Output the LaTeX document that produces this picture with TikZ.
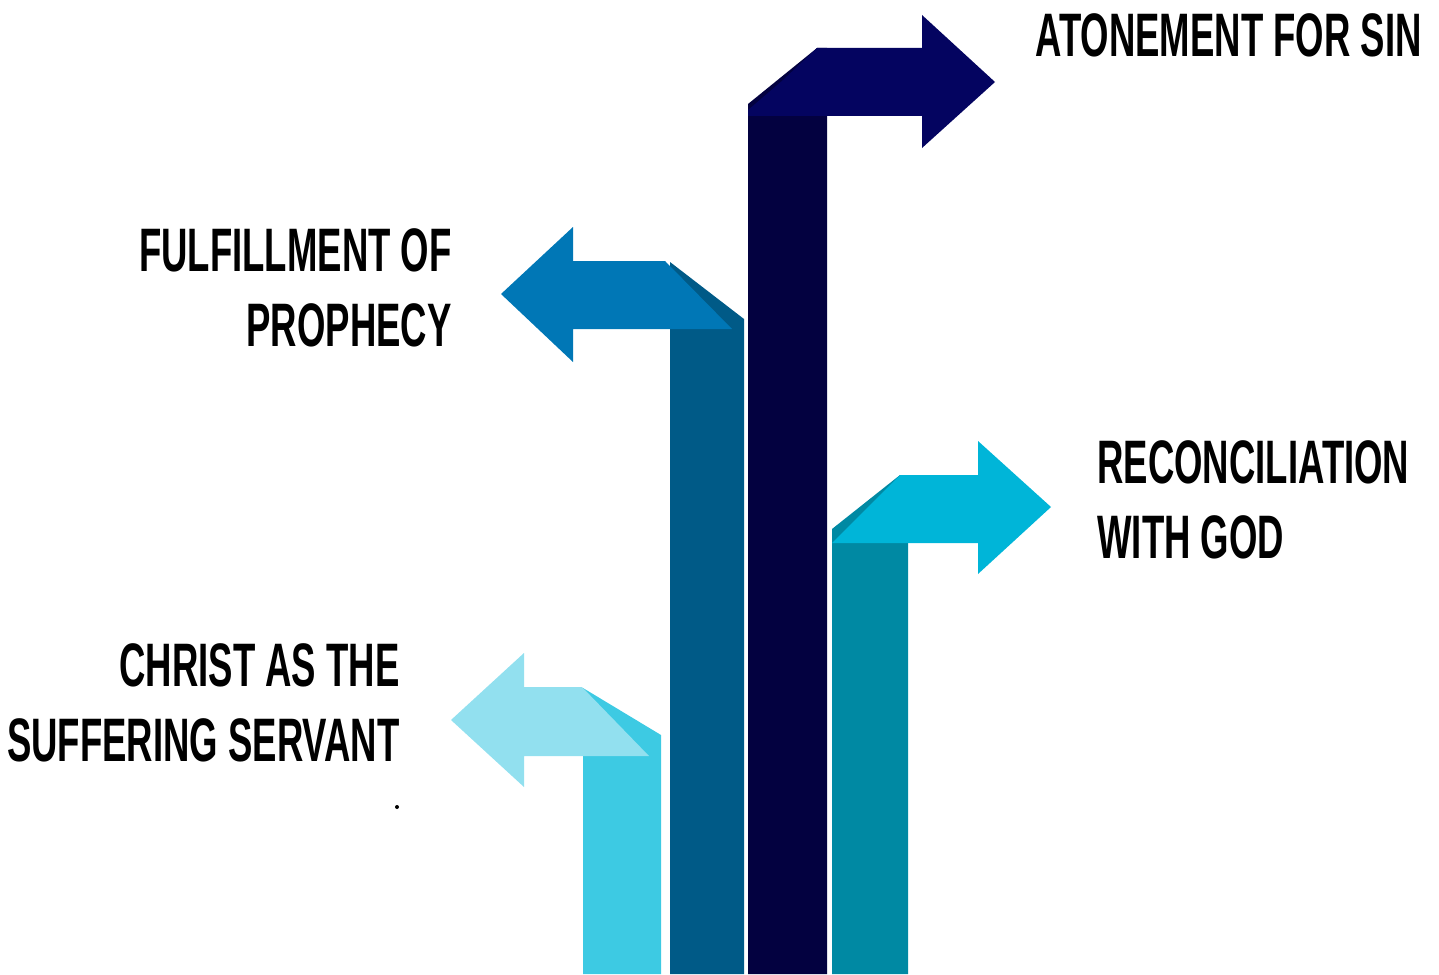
\documentclass[tikz,border=0pt]{standalone}
\usepackage{fontspec}
\usepackage{tikz}
\newfontfamily\bebas{Liberation Sans}[FakeStretch=0.595]
\definecolor{navybar}{HTML}{030140}
\definecolor{navyband}{HTML}{040460}
\definecolor{oceanbar}{HTML}{005A87}
\definecolor{oceanband}{HTML}{0077B6}
\definecolor{tealbar}{HTML}{0089A3}
\definecolor{tealband}{HTML}{00B5D8}
\definecolor{skybar}{HTML}{3DCAE3}
\definecolor{skyband}{HTML}{92E0EF}
\tikzset{headline/.style={font=\bebas\bfseries\fontsize{30.7}{37.5}\selectfont, inner sep=0pt}}

\begin{document}
\begin{tikzpicture}[x=0.5pt, y=-0.5pt]
    \useasboundingbox (0,0) rectangle (1439,974);
    % Christ as the suffering servant
    \fill[skybar] (583,974) -- (583,688) -- (661,735) -- (661,974) -- cycle;
    \fill[skyband] (649,756) -- (524,756) -- (524,787) -- (451,720) -- (524,653)
        -- (524,687) -- (582,687) -- cycle;
    % Fulfillment of prophecy
    \fill[oceanbar] (670,974) -- (670,262) -- (744,319) -- (744,974) -- cycle;
    \fill[oceanband] (732,329) -- (573,329) -- (573,362) -- (501,294) -- (573,227)
        -- (573,261) -- (665,261) -- cycle;
    % Atonement for sin
    \fill[navybar] (748,974) -- (748,104) -- (817,48) -- (827,48) -- (827,974) -- cycle;
    \fill[navyband] (748,116) -- (748,110) -- (783,80) -- (817,48) -- (922,48) -- (922,15)
        -- (995,82) -- (922,148) -- (922,116) -- cycle;
    % Reconciliation with God
    \fill[tealbar] (832,974) -- (832,529) -- (900,475) -- (908,475) -- (908,974) -- cycle;
    \fill[tealband] (832,543) -- (900,475) -- (978,475) -- (978,441) -- (1051,507)
        -- (978,574) -- (978,543) -- cycle;
    % Labels
    \node[headline, anchor=north west] (atone) at (1035,13) {ATONEMENT FOR SIN};
    \node[headline, anchor=north east, align=right] (fulfil) at (452,228) {FULFILLMENT OF\\PROPHECY};
    \node[headline, anchor=north west, align=left] (recon) at (1097,440) {RECONCILIATION\\WITH GOD};
    \node[headline, anchor=north east, align=right] (christ) at (400,643) {CHRIST AS THE\\SUFFERING SERVANT};
    \fill (397,807) circle (2);
\end{tikzpicture}
\end{document}
